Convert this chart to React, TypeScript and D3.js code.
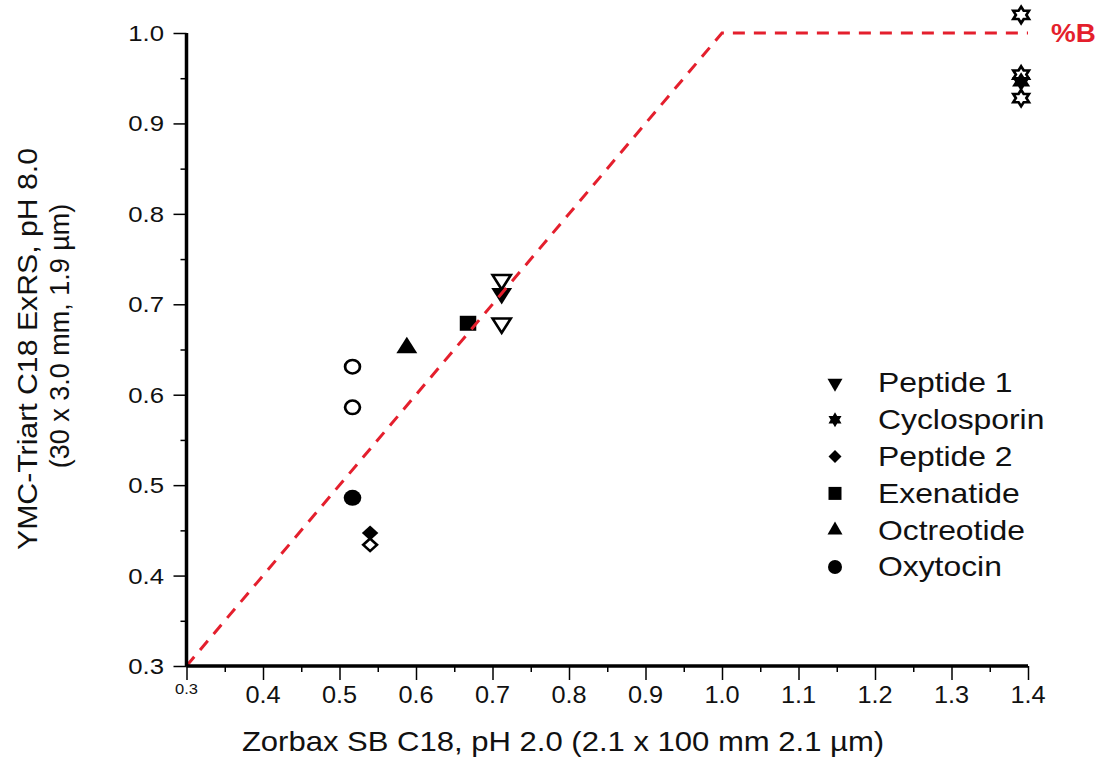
import { useEffect, useRef } from 'react';
import * as d3 from 'd3';

// ── data ────────────────────────────────────────────────────────────────────
const SERIES = ['Peptide 1', 'Cyclosporin', 'Peptide 2', 'Exenatide', 'Octreotide', 'Oxytocin'];
const SHAPES = ['triangleDown', 'hexagram', 'diamond', 'square', 'triangleUp', 'circle'];

// [x, y] pairs — x: Zorbax pH 2.0, y: YMC-Triart pH 8.0
const PEPTIDE1_OPEN = [[0.712, 0.727], [0.712, 0.679]];
const PEPTIDE1_FILLED = [[0.712, 0.712]];
const CYCLOSPORIN_OPEN = [[1.391, 1.02], [1.391, 0.954], [1.391, 0.928]];
const CYCLOSPORIN_FILLED = [[1.391, 0.946]];
const PEPTIDE2_FILLED = [[0.54, 0.447]];
const PEPTIDE2_OPEN = [[0.54, 0.434]];
const EXENATIDE_FILLED = [[0.668, 0.679]];
const OCTREOTIDE_FILLED = [[0.588, 0.652]];
const OXYTOCIN_OPEN = [[0.517, 0.631], [0.517, 0.586]];
const OXYTOCIN_FILLED = [[0.517, 0.486]];

// %B gradient reference line
const GRADIENT_LINE = [[0.3, 0.3], [1.0, 1.0], [1.4, 1.0]];

const X_TICKS = [0.3, 0.4, 0.5, 0.6, 0.7, 0.8, 0.9, 1.0, 1.1, 1.2, 1.3, 1.4];
const Y_TICKS = [0.3, 0.4, 0.5, 0.6, 0.7, 0.8, 0.9, 1.0];

const X_TITLE = 'Zorbax SB C18, pH 2.0 (2.1 x 100 mm  2.1 µm)';
const Y_TITLE_1 = 'YMC-Triart C18 ExRS, pH 8.0';
const Y_TITLE_2 = '(30 x 3.0 mm, 1.9 µm)';

const FONT = '"Liberation Sans", Arial, sans-serif';
const RED = '#e41f2d';
const INK = '#111';

function shapePath(shape: string, s: number): string {
  const h = s * Math.sqrt(3) / 2;
  switch (shape) {
    case 'triangleDown':
      return `M${-s / 2},${-h / 3}L${s / 2},${-h / 3}L0,${(2 * h) / 3}Z`;
    case 'triangleUp':
      return `M${-s / 2},${h / 3}L${s / 2},${h / 3}L0,${(-2 * h) / 3}Z`;
    case 'square':
      return `M${-s / 2},${-s / 2}h${s}v${s}h${-s}Z`;
    case 'diamond': {
      const r = s / 2;
      return `M0,${-r}L${r},0L0,${r}L${-r},0Z`;
    }
    case 'circle': {
      const r = s / 2;
      return `M${r},0A${r},${r} 0 1,1 ${-r},0A${r},${r} 0 1,1 ${r},0Z`;
    }
    case 'hexagram': {
      const R = s / 2, r = R / Math.sqrt(3);
      const pts: string[] = [];
      for (let k = 0; k < 12; k++) {
        const a = -Math.PI / 2 + (k * Math.PI) / 6;
        const rad = k % 2 === 0 ? R : r;
        pts.push(`${(rad * Math.cos(a)).toFixed(2)},${(rad * Math.sin(a)).toFixed(2)}`);
      }
      return `M${pts.join('L')}Z`;
    }
  }
  return '';
}

const PLOT_SIZE: Record<string, number> = {
  triangleDown: 19, triangleUp: 19, square: 15, diamond: 15, circle: 16, hexagram: 19,
};
const LEGEND_SIZE: Record<string, number> = {
  triangleDown: 15, triangleUp: 15, square: 13, diamond: 13, circle: 14, hexagram: 15,
};

// text that is a little wider than the font (the source figure is stretched)
function wideText(
  parent: d3.Selection<any, any, any, any>, tx: number, ty: number, str: string,
  size: number, k: number, anchor = 'start', rot = 0,
) {
  return parent.append('text')
    .attr('transform', `translate(${tx},${ty}) rotate(${rot}) scale(${k},1)`)
    .attr('text-anchor', anchor).attr('dy', '0.35em')
    .style('font-family', FONT).style('font-size', `${size}px`).style('fill', INK)
    .text(str);
}

export default function App() {
  const svgRef = useRef<SVGSVGElement>(null);

  useEffect(() => {
    if (!svgRef.current) return;
    const svg = d3.select(svgRef.current);
    svg.selectAll('*').remove();

    const x = d3.scaleLinear().domain([0.3, 1.4]).range([186.5, 1028]);
    const y = d3.scaleLinear().domain([0.3, 1.0]).range([666, 33]);

    const points = [
      ...PEPTIDE1_OPEN.map(p => ({ s: 0, p, open: true })),
      ...PEPTIDE1_FILLED.map(p => ({ s: 0, p, open: false })),
      ...CYCLOSPORIN_OPEN.map(p => ({ s: 1, p, open: true })),
      ...CYCLOSPORIN_FILLED.map(p => ({ s: 1, p, open: false })),
      ...PEPTIDE2_FILLED.map(p => ({ s: 2, p, open: false })),
      ...PEPTIDE2_OPEN.map(p => ({ s: 2, p, open: true })),
      ...EXENATIDE_FILLED.map(p => ({ s: 3, p, open: false })),
      ...OCTREOTIDE_FILLED.map(p => ({ s: 4, p, open: false })),
      ...OXYTOCIN_OPEN.map(p => ({ s: 5, p, open: true })),
      ...OXYTOCIN_FILLED.map(p => ({ s: 5, p, open: false })),
    ];

    // markers
    svg.append('g').selectAll('path').data(points).enter().append('path')
      .attr('transform', d => `translate(${x(d.p[0])},${y(d.p[1])}) scale(1.1,1)`)
      .attr('d', d => shapePath(SHAPES[d.s], PLOT_SIZE[SHAPES[d.s]] - (d.open ? 2.5 : 0)))
      .attr('fill', d => d.open ? '#fff' : '#000')
      .attr('stroke', '#000')
      .attr('stroke-width', d => d.open ? 2.5 : 0);

    // %B line
    svg.append('path')
      .datum(GRADIENT_LINE)
      .attr('d', d3.line<number[]>().x(d => x(d[0])).y(d => y(d[1])))
      .attr('fill', 'none').attr('stroke', RED).attr('stroke-width', 3)
      .attr('stroke-dasharray', '12,9');

    wideText(svg, 1051, 33, '%B', 26, 1.07)
      .style('font-weight', 700).style('fill', RED);

    // x axis
    const xMinor = d3.range(0.35, 1.4, 0.1);
    const gx = svg.append('g').attr('transform', `translate(0,${y(0.3)})`);
    gx.call(d3.axisBottom(x).tickValues(X_TICKS).tickSize(14).tickFormat(() => ''));
    gx.call(g => g.selectAll('.tick line').attr('stroke-width', 1.5));
    gx.append('g').call(d3.axisBottom(x).tickValues(xMinor).tickSize(6).tickFormat(() => ''))
      .call(g => g.select('.domain').remove())
      .call(g => g.selectAll('.tick line').attr('stroke-width', 1.5));
    gx.select('.domain').attr('stroke-width', 3.5).attr('d', `M${x(0.3)},0H${x(1.4)}`);
    gx.selectAll('.tick text').remove();
    const xl = svg.append('g');
    X_TICKS.forEach(t => {
      if (t === 0.3) wideText(xl, x(t), 689, t.toFixed(1), 15, 1.1, 'middle');
      else wideText(xl, x(t), 695, t.toFixed(1), 23, 1.1, 'middle');
    });

    // y axis
    const yMinor = d3.range(0.35, 1.0, 0.1);
    const gy = svg.append('g').attr('transform', `translate(${x(0.3)},0)`);
    gy.call(d3.axisLeft(y).tickValues(Y_TICKS).tickSize(13).tickFormat(() => ''));
    gy.call(g => g.selectAll('.tick line').attr('stroke-width', 1.5));
    gy.append('g').call(d3.axisLeft(y).tickValues(yMinor).tickSize(6).tickFormat(() => ''))
      .call(g => g.select('.domain').remove())
      .call(g => g.selectAll('.tick line').attr('stroke-width', 1.5));
    gy.select('.domain').attr('stroke-width', 3.5).attr('d', `M0,${y(1.0)}V${y(0.3)}`);
    const yl = svg.append('g');
    Y_TICKS.forEach(t => wideText(yl, 164, y(t), t.toFixed(1), 23, 1.12, 'end'));

    // axis titles
    wideText(svg, 563, 742, X_TITLE, 27, 1.15, 'middle');
    wideText(svg, 28, 349, Y_TITLE_1, 27, 1.12, 'middle', -90);
    wideText(svg, 60, 336, Y_TITLE_2, 27, 1.0, 'middle', -90);

    // legend
    SERIES.forEach((name, i) => {
      const cy = 383 + i * 36.8;
      svg.append('path')
        .attr('transform', `translate(835,${cy})`)
        .attr('d', shapePath(SHAPES[i], LEGEND_SIZE[SHAPES[i]]))
        .attr('fill', '#000');
      wideText(svg, 878, cy, name, 27, 1.18);
    });
  }, []);

  return (
    <svg ref={svgRef} width={1100} height={774}
      style={{ position: 'absolute', left: 0, top: 0, background: '#fff' }} />
  );
}
